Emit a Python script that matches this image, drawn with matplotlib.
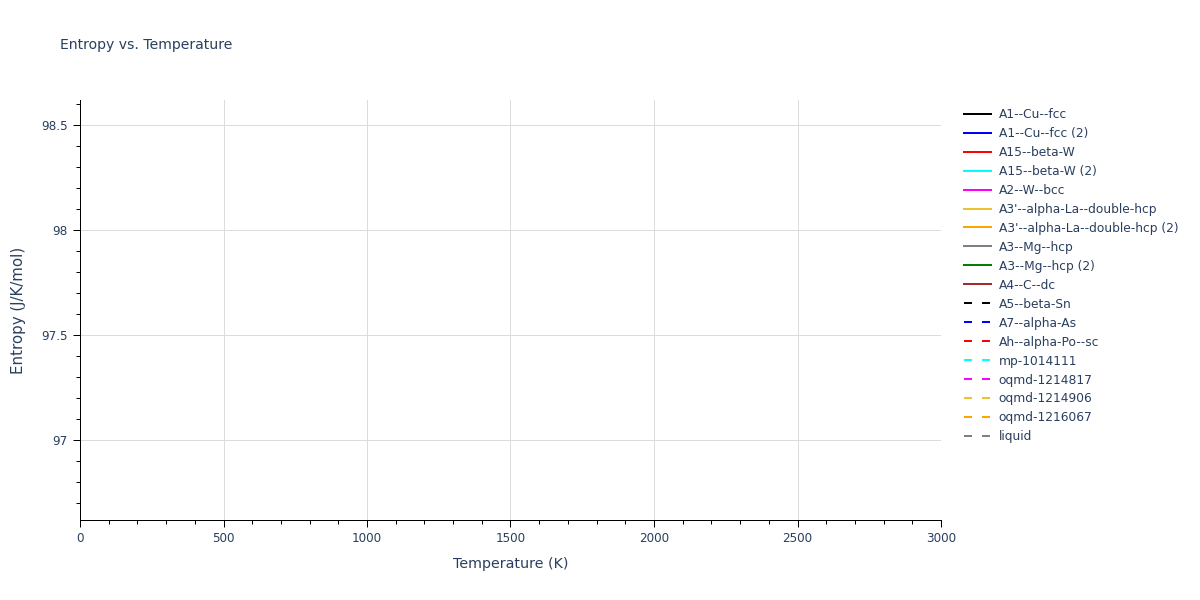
import matplotlib
matplotlib.use("Agg")
import matplotlib.pyplot as plt
from matplotlib.ticker import MultipleLocator

plt.rcParams['font.family'] = ['DejaVu Sans']
plt.rcParams['lines.scale_dashes'] = False

TXT = '#2a3f5f'
PX = 0.72  # points per pixel at dpi 100

# Series (no data points visible in the reference: all series are empty)
series_names = [
    "A1--Cu--fcc", "A1--Cu--fcc (2)", "A15--beta-W", "A15--beta-W (2)",
    "A2--W--bcc", "A3'--alpha-La--double-hcp", "A3'--alpha-La--double-hcp (2)",
    "A3--Mg--hcp", "A3--Mg--hcp (2)", "A4--C--dc", "A5--beta-Sn",
    "A7--alpha-As", "Ah--alpha-Po--sc", "mp-1014111", "oqmd-1214817",
    "oqmd-1214906", "oqmd-1216067", "liquid",
]
series_colors = [
    "black", "blue", "red", "cyan", "magenta", "#EEC22E", "orange",
    "gray", "green", "brown", "black", "blue", "red", "cyan", "magenta",
    "#EEC22E", "orange", "gray",
]
series_dashed = [False] * 10 + [True] * 8
series_T = [[] for _ in series_names]
series_S = [[] for _ in series_names]

x_range = (0, 3000)
y_range = (96.619, 98.619)

fig = plt.figure(figsize=(12, 6), dpi=100)
ax = fig.add_axes([80 / 1200, 1 - 520 / 600, (941 - 80) / 1200, 420 / 600])

for name, col, dashed, T, S in zip(series_names, series_colors, series_dashed, series_T, series_S):
    ln, = ax.plot(T, S, color=col, lw=2 * PX, label=name)
    if dashed:
        ln.set_dashes((8 * PX, 10 * PX))

ax.set_xlim(*x_range)
ax.set_ylim(*y_range)

ax.xaxis.set_major_locator(MultipleLocator(500))
ax.xaxis.set_minor_locator(MultipleLocator(100))
ax.yaxis.set_major_locator(MultipleLocator(0.5))
ax.yaxis.set_minor_locator(MultipleLocator(0.1))
ax.yaxis.set_major_formatter(matplotlib.ticker.FuncFormatter(lambda v, p: f"{v:g}"))

ax.grid(True, which='major', color='#dcdcdc', lw=1 * PX)
ax.set_axisbelow(True)
for s in ['top', 'right']:
    ax.spines[s].set_visible(False)
for s in ['left', 'bottom']:
    ax.spines[s].set_color('black')
    ax.spines[s].set_linewidth(1 * PX)

ax.tick_params(which='major', direction='out', length=5, width=1 * PX, color='black',
               labelsize=12 * PX, labelcolor=TXT, pad=4)
ax.tick_params(which='minor', direction='out', length=3, width=1 * PX, color='black')

ax.set_xlabel("Temperature (K)", fontsize=14.3 * PX, color=TXT, labelpad=8)
ax.set_ylabel("Entropy (J/K/mol)", fontsize=15 * PX, color=TXT, labelpad=11)

fig.text(60 / 1200, 1 - 45 / 600, "Entropy vs. Temperature", fontsize=14 * PX,
         color=TXT, va='center', ha='left')

leg = fig.legend(loc='upper left', bbox_to_anchor=(964 / 1200, 1 - 108 / 600),
                 frameon=False, fontsize=12.3 * PX, handlelength=2.2,
                 handletextpad=0.62, labelspacing=0.485, borderpad=0, borderaxespad=0)
for t in leg.get_texts():
    t.set_color(TXT)

fig.savefig("out.png", dpi=100)
